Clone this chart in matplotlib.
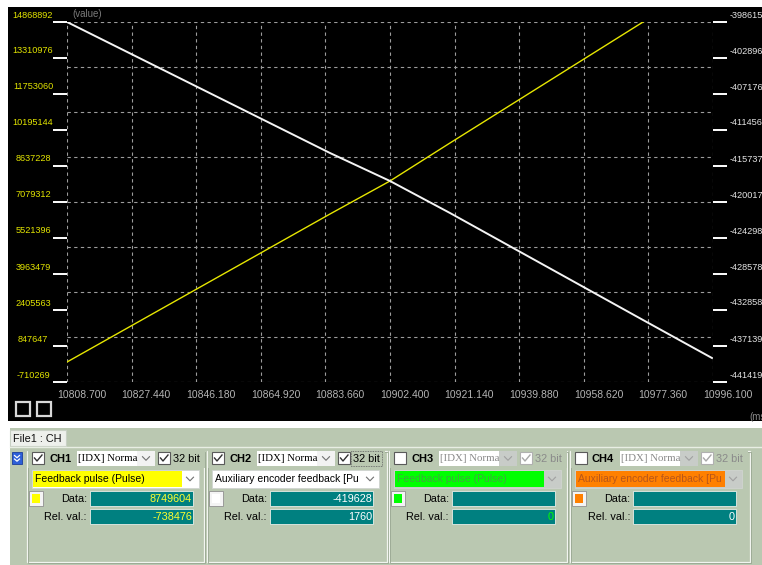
import numpy as np
import matplotlib.pyplot as plt
from matplotlib.patches import Rectangle
from matplotlib.transforms import offset_copy

plt.rcParams['font.family'] = ['Liberation Sans', 'DejaVu Sans']

# time axis (ms) and the two traces
t_ch1 = [10808.70, 10884.99, 10902.40, 10919.80, 10975.80, 10996.10]
ch1_pulse = [155256, 6560015, 7988103, 9632569, 14868892, 16729717]
t_ch2 = [10808.70, 10884.99, 10902.40, 10919.80, 10975.80, 10995.80]
ch2_aux = [-398615, -414191, -417520, -421325, -434047, -438565]

x_ticks = [10808.700, 10827.440, 10846.180, 10864.920, 10883.660, 10902.400,
           10921.140, 10939.880, 10958.620, 10977.360, 10996.100]
left_ticks = [14868892, 13310976, 11753060, 10195144, 8637228, 7079312,
              5521396, 3963479, 2405563, 847647, -710269]
right_ticks = [-398615, -402896, -407176, -411456, -415737, -420017,
               -424298, -428578, -432858, -437139, -441419]

# channel panel
ch_names = ['CH1', 'CH2', 'CH3', 'CH4']
ch_on = [True, True, False, False]
ch_signal = ['Feedback pulse (Pulse)', 'Auxiliary encoder feedback [Pu',
             'Feedback pulse (Pulse)', 'Auxiliary encoder feedback [Pu']
ch_color = ['#ffff00', '#ffffff', '#00ff00', '#ff8000']
ch_sigtext = ['#000000', '#000000', '#3fa83f', '#b8561a']
ch_data = ['8749604', '-419628', '', '']
ch_rel = ['-738476', '1760', '0', '0']
ch_valcolor = ['#ffff30', '#ffffff', '#00ff00', '#ffffff']
box_left = [27, 207, 389, 570]
box_right = [204, 387, 567, 750]

W, H = 762, 565
fig = plt.figure(figsize=(W / 100, H / 100), dpi=100)
fig.patch.set_facecolor('white')

# background overlay in pixel coordinates
bg = fig.add_axes([0, 0, 1, 1], zorder=0)
bg.set_xlim(0, W)
bg.set_ylim(H, 0)
bg.axis('off')


def rect(x0, y0, x1, y1, fc, ec='none', lw=0.8, **kw):
    bg.add_patch(Rectangle((x0, y0), x1 - x0, y1 - y0, facecolor=fc,
                           edgecolor=ec, linewidth=lw, **kw))


def chevron(cx, cy, color='#707070'):
    bg.plot([cx - 3.5, cx, cx + 3.5], [cy - 1.8, cy + 1.8, cy - 1.8], color=color, lw=0.8)


def checkbox(x, y, checked, enabled=True):
    rect(x, y, x + 12, y + 12, '#ffffff', '#5a5a5a' if enabled else '#b0b0b0', 0.8)
    if checked:
        c = '#303030' if enabled else '#a8a8a8'
        bg.plot([x + 2.5, x + 5, x + 10], [y + 6, y + 9, y + 3], color=c, lw=1.0)


# black scope area
rect(8, 7, W, 421, 'black')
bg.text(72, 14, '(value)', color='#7a7a7a', fontsize=7, va='center')
bg.text(749, 417, '(ms)', color='#8a8a8a', fontsize=7, va='center')
for sx in [16, 37]:
    rect(sx, 402, sx + 14, 416, 'black', '#d8d8d8', 1.6)

# panel
rect(10, 428, W, H, '#bac8b1')
rect(10, 430, 66, 446, '#eef0ec', '#c8d0c4', 0.8)
bg.text(13, 438.5, 'File1 : CH', fontsize=7.8, va='center', color='#101010')
bg.plot([10, W], [447, 447], color='#e8eee4', lw=1)
rect(12, 452, 22, 464, '#2d5fd8', '#1a3c9c', 0.6)
for dy in [455.5, 459]:
    bg.plot([14.5, 17, 19.5], [dy, dy + 2.2, dy], color='white', lw=0.9)

for i, name in enumerate(ch_names):
    b = box_left[i]
    on = ch_on[i]
    # group box
    rect(b, 451, box_right[i], 562, 'none', '#f2f5f0', 0.9)
    rect(b + 1, 452, box_right[i] + 1, 563, 'none', '#98a691', 0.6)
    rect(b + 1, 450, b + 178, 468, '#bac8b1')
    checkbox(b + 5, 452, on)
    bg.text(b + 22, 458.5, name, fontsize=8, fontweight='bold', va='center', color='#000000')
    # mode combo
    rect(b + 50, 451, b + 110, 466, '#ffffff')
    bg.text(b + 51, 458.5, '[IDX] Norma', family='Liberation Serif', fontsize=7.8, va='center',
            color='#000000' if on else '#8a8a8a')
    rect(b + 110, 451, b + 128, 466, '#f2f2f2' if on else '#c8ccc8')
    chevron(b + 119, 458.5, '#707070' if on else '#a0a0a0')
    checkbox(b + 131, 452, True, on)
    bg.text(b + 146, 458.5, '32 bit', fontsize=7.8, va='center',
            color='#000000' if on else '#8a8a8a')
    if i == 1:
        rect(b + 144, 451, b + 175, 466, 'none', '#606060', 0.6, linestyle=(0, (1, 1)))
    # signal combo
    rect(b + 5, 470, b + 172, 488, '#ffffff' if on else '#c8ccc8', '#d0d4d0', 0.6)
    rect(b + 6, 471, b + 155, 487, ch_color[i])
    bg.text(b + 8, 479, ch_signal[i], fontsize=7.5, va='center', color=ch_sigtext[i])
    chevron(b + 163, 479, '#707070' if on else '#a0a0a0')
    # colour swatch
    rect(b + 2, 491, b + 16, 506, '#f4f4f4', '#909090', 0.6)
    rect(b + 5, 494, b + 13, 503, ch_color[i])
    # data fields
    bg.text(b + 60, 498.5, 'Data:', fontsize=7.8, ha='right', va='center')
    bg.text(b + 60, 516.5, 'Rel. val.:', fontsize=7.8, ha='right', va='center')
    for y0, val in [(491, ch_data[i]), (509, ch_rel[i])]:
        rect(b + 63, y0, b + 166, y0 + 15, '#008080', '#e8eee8', 0.6)
        bg.text(b + 165, y0 + 7.5, val, fontsize=7.8, ha='right', va='center', color=ch_valcolor[i])

# scope axes
ax = fig.add_axes([67 / W, (H - 382) / H, 646 / W, 360 / H], zorder=2)
ax.set_facecolor('black')
ax.set_xlim(x_ticks[0], x_ticks[-1])
ax.set_ylim(left_ticks[-1], left_ticks[0])
ax2 = ax.twinx()
ax2.set_ylim(right_ticks[-1], right_ticks[0])
for a in (ax, ax2):
    for s in a.spines.values():
        s.set_visible(False)

grid_kw = dict(color='#9c9c9c', lw=0.8, ls=(0, (3, 3)), zorder=1)
for yv in np.linspace(left_ticks[-1], left_ticks[0], 9):
    ax.axhline(yv, **grid_kw)
for xv in x_ticks:
    ax.axvline(xv, **grid_kw)

ax.plot(t_ch1, ch1_pulse, color='#e6e600', lw=1.0, zorder=3)
ax2.plot(t_ch2, ch2_aux, color='#f4f4f4', lw=1.4, zorder=3)

ax.set_xticks(x_ticks)
ax.tick_params(axis='x', length=0, labelbottom=False)
ax.set_yticks(left_ticks)
ax.tick_params(axis='y', length=10, width=1.4, color='white', direction='out', labelleft=False)
ax2.set_yticks(right_ticks)
ax2.tick_params(axis='y', length=10, width=1.4, color='white', direction='out', labelright=False)

tr = offset_copy(ax.get_xaxis_transform(), fig=fig, x=-10, y=-13, units='dots')
for xv in x_ticks:
    ax.text(xv, 0, f'{xv:.3f}', transform=tr, color='#b4b4b4', fontsize=7.5,
            ha='left', va='center', clip_on=False)
tr = offset_copy(ax.get_yaxis_transform(), fig=fig, x=-34, y=7, units='dots')
for yv in left_ticks:
    ax.text(0, yv, str(yv), transform=tr, color='#e2e400', fontsize=6.6,
            ha='center', va='center', clip_on=False)
tr = offset_copy(ax2.get_yaxis_transform(), fig=fig, x=17, y=7, units='dots')
for yv in right_ticks:
    ax2.text(1, yv, str(yv), transform=tr, color='#e4e4e4', fontsize=6.6,
             ha='left', va='center', clip_on=False)

fig.savefig('out.png', dpi=100)
